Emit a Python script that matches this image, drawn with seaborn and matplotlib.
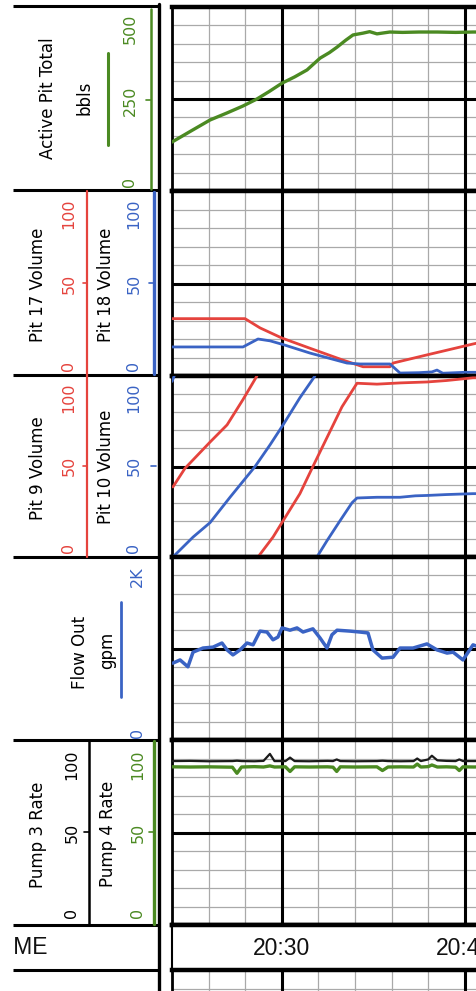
import numpy as np
import pandas as pd
import matplotlib
matplotlib.use("Agg")
import matplotlib.pyplot as plt
import seaborn as sns

sns.set_style("white")
plt.rcParams["font.family"] = ["DejaVu Sans"]

# ---------------------------------------------------------------- data
# time axis: minutes after 20:24
time_labels = ["20:30", "20:40"]
time_label_pos = [6, 16]

# Active pit total (bbls)
pit_total_t = [0.0, 1.0, 2.08, 3.0, 3.88, 4.64, 5.3, 6.01, 6.7, 7.38, 8.09, 8.6, 9.02, 9.5,
               9.89, 10.44, 10.8, 11.2, 11.9, 12.6, 13.5, 14.5, 15.5, 16.45, 17.0]
pit_total_v = [133, 162, 193, 212, 231, 250, 270, 293, 310, 329, 361, 376, 391, 410,
               424, 429, 433, 427, 432, 431, 432, 432, 431, 432, 432]

# Pit 17 / Pit 18 volume
pit17_t = [0.0, 3.99, 4.81, 6.01, 7.54, 9.34, 10.44, 11.91, 12.08, 13.93, 16.45, 17.0]
pit17_v = [31, 31, 26, 20.5, 15, 8.6, 5, 5, 7, 11.4, 17.3, 18.5]
pit18_t = [0.0, 3.88, 4.70, 5.36, 6.07, 7.54, 9.56, 10.27, 11.91, 12.46, 13.5, 14.2, 14.48,
           14.8, 16.0, 17.0]
pit18_v = [15.7, 15.7, 20, 19, 17, 12.4, 7, 6.5, 6.5, 1.6, 1.8, 2.2, 3.2, 1.5, 2, 2]

# Pit 9 / Pit 10 volume, drawn as wrapped 0-100 segments
pit9_segments = [
    ([0.05, 0.71, 2.08, 3.01, 3.88, 4.64], [38.7, 49, 63.5, 73, 87, 100]),
    ([4.70, 5.52, 6.07, 6.99, 7.70, 8.47, 9.29, 10.11, 11.2, 12.5, 13.93, 15.0, 16.45, 17.0],
     [0, 11, 20, 35, 50, 66, 83, 96, 95.5, 96.2, 96.7, 97.5, 99, 99]),
]
pit10_segments = [
    ([0.0, 0.12], [97, 100]),
    ([0.05, 1.15, 2.08, 3.17, 4.54, 5.36, 6.07, 6.99, 7.81], [0, 11, 19, 33, 50, 62, 73, 88, 100]),
    ([7.92, 8.47, 9.18, 9.84, 10.11, 11.2, 12.46, 13.3, 13.93, 15.0, 16.45, 17.0],
     [0, 9, 20, 30, 32.6, 33, 33, 33.8, 34, 34.5, 35, 35]),
]

# Flow out (gpm)
flow_t = [0.05, 0.44, 0.87, 1.15, 1.69, 2.24, 2.73, 3.01, 3.33, 3.72, 4.10, 4.43, 4.81, 5.19,
          5.52, 5.79, 6.01, 6.45, 6.83, 7.16, 7.70, 8.09, 8.47, 8.74, 9.02, 9.73, 10.27, 10.71,
          10.98, 11.48, 12.08, 12.46, 13.17, 13.93, 14.48, 15.03, 15.36, 15.90, 16.45, 17.0]
flow_v = [840, 875, 800, 960, 1005, 1015, 1060, 985, 930, 985, 1060, 1040, 1190, 1180,
          1095, 1125, 1225, 1200, 1225, 1180, 1215, 1115, 1005, 1150, 1200, 1190, 1180, 1170,
          985, 895, 905, 1005, 1005, 1050, 985, 950, 960, 875, 1040, 1000]

# Pump 3 / Pump 4 rate
pump_t = [0, 1.0, 2.0, 3.3, 3.55, 3.8, 4.5, 5.0, 5.35, 5.6, 6.2, 6.45, 6.7, 7.5, 8.5, 8.8,
          9.0, 9.2, 10.0, 11.2, 11.5, 11.8, 12.5, 13.2, 13.4, 13.6, 14.0, 14.2, 14.5, 15.0,
          15.5, 15.7, 15.9, 16.5, 17.0]
pump4_v = [85.5, 85.4, 85.5, 85.3, 82.0, 85.4, 85.6, 85.4, 86.0, 85.4, 85.5, 83.0, 85.5,
           85.4, 85.5, 85.3, 83.0, 85.5, 85.4, 85.5, 83.5, 85.4, 85.5, 85.4, 87.0, 85.4,
           85.6, 86.5, 85.4, 85.5, 85.3, 83.5, 85.5, 85.4, 85.5]
pump3_v = [88.6, 88.7, 88.5, 88.6, 88.8, 88.6, 88.5, 88.7, 92.5, 88.6, 88.6, 90.5, 88.6,
           88.5, 88.7, 88.6, 89.5, 88.6, 88.5, 88.6, 88.8, 88.6, 88.5, 88.6, 90.0, 88.6,
           89.5, 91.5, 89.0, 88.7, 88.6, 89.5, 88.6, 88.6, 88.7]

RED = "#e5433d"
BLUE = "#3a63c4"
GREEN = "#4b8a22"
GRID = "#a9a9a9"

# ---------------------------------------------------------------- layout
W, H = 477, 991
fig = plt.figure(figsize=(W / 100, H / 100), dpi=100)


def box(x0, y0, x1, y1):
    return [x0 / W, 1 - y1 / H, (x1 - x0) / W, (y1 - y0) / H]


PX_PER_MIN = 18.3
X0 = 172
T_SPAN = 20
X1 = X0 + T_SPAN * PX_PER_MIN


def grid_axes(y0, y1, ylim):
    ax = fig.add_axes(box(X0, y0, X1, y1))
    ax.set_xlim(0, T_SPAN)
    ax.set_ylim(*ylim)
    for t in range(0, T_SPAN + 1, 2):
        major = t % 10 == 6
        ax.axvline(t, color="black" if major else GRID, lw=2.2 if major else 0.9,
                   zorder=1.5 if major else 1)
    lo, hi = ylim
    for k in range(1, 10):
        y = lo + (hi - lo) * k / 10
        ax.axhline(y, color="black" if k == 5 else GRID, lw=2.2 if k == 5 else 0.9,
                   zorder=1.5 if k == 5 else 1)
    ax.set_xticks([])
    ax.set_yticks([])
    ax.grid(False)
    for side, s in ax.spines.items():
        s.set_color("black")
    ax.spines["top"].set_linewidth(3.2)
    ax.spines["bottom"].set_linewidth(3.2)
    ax.spines["left"].set_linewidth(2.0)
    ax.spines["right"].set_visible(False)
    return ax


def line(ax, t, v, color, lw):
    df = pd.DataFrame({"t": t, "v": v})
    sns.lineplot(data=df, x="t", y="v", ax=ax, color=color, lw=lw, estimator=None,
                 sort=False, legend=False, zorder=3)
    ax.set_xlabel("")
    ax.set_ylabel("")


tracks = [(7, 191), (191, 376), (376, 557), (557, 740), (740, 925)]

ax1 = grid_axes(*tracks[0], (0, 500))
line(ax1, pit_total_t, pit_total_v, GREEN, 2.4)

ax2 = grid_axes(*tracks[1], (0, 100))
line(ax2, pit17_t, pit17_v, RED, 2.0)
line(ax2, pit18_t, pit18_v, BLUE, 2.0)

ax3 = grid_axes(*tracks[2], (0, 100))
for t, v in pit9_segments:
    line(ax3, t, v, RED, 2.0)
for t, v in pit10_segments:
    line(ax3, t, v, BLUE, 2.0)

ax4 = grid_axes(*tracks[3], (0, 2000))
line(ax4, flow_t, flow_v, BLUE, 2.5)

ax5 = grid_axes(*tracks[4], (0, 100))
line(ax5, pump_t, pump3_v, "#1a1a1a", 1.6)
line(ax5, pump_t, pump4_v, GREEN, 2.4)

# time strip
axt = fig.add_axes(box(X0, 925, X1, 970))
axt.set_xlim(0, T_SPAN)
axt.set_ylim(0, 1)
axt.set_xticks([])
axt.set_yticks([])
axt.spines["right"].set_visible(False)
axt.spines["top"].set_linewidth(3.2)
axt.spines["bottom"].set_linewidth(2.4)
axt.spines["left"].set_linewidth(1.5)
for s in axt.spines.values():
    s.set_color("black")
for pos, lab in zip(time_label_pos, time_labels):
    axt.text(pos, 0.47, lab, ha="center", va="center", fontsize=16.5,
             family="Liberation Sans", color="#111111")

# next track beneath the time strip
grid_axes(970, 1155, (0, 100))

# ---------------------------------------------------------------- header
hd = fig.add_axes([0, 0, 1, 1], zorder=5)
hd.set_xlim(0, W)
hd.set_ylim(H, 0)
hd.axis("off")

for y in [6, 190, 375, 557, 740, 925, 970]:
    hd.plot([13, 160], [y, y], color="black", lw=2.2, solid_capstyle="butt")
hd.plot([159, 159], [4, H], color="black", lw=2.4)


def vtext(x, y, s, size=12, color="black"):
    hd.text(x, y, s, rotation=90, ha="center", va="center", fontsize=size, color=color)


# Active Pit Total
vtext(48, 98, "Active Pit Total")
vtext(85, 98, "bbls")
hd.plot([108, 108], [53, 145], color=GREEN, lw=2.2)
for y, s in [(182, "0"), (101, "250"), (29, "500")]:
    vtext(130, y, s, 11.5, GREEN)
hd.plot([151, 151], [9, 189], color=GREEN, lw=1.8)
hd.plot([146, 151], [100, 100], color=GREEN, lw=1.2)

# Pit 17 / Pit 18
vtext(38, 285, "Pit 17 Volume")
vtext(106, 285, "Pit 18 Volume")
for y, s in [(366, "0"), (284, "50"), (214, "100")]:
    vtext(69, y, s, 11.5, RED)
    vtext(134, y, s, 11.5, BLUE)
hd.plot([87, 87], [191, 376], color=RED, lw=1.6)
hd.plot([83, 87], [283, 283], color=RED, lw=1.2)
hd.plot([154, 154], [192, 374], color=BLUE, lw=2.4)
hd.plot([149, 154], [283, 283], color=BLUE, lw=1.2)

# Pit 9 / Pit 10
vtext(38, 468, "Pit 9 Volume")
vtext(106, 467, "Pit 10 Volume")
for y, s in [(548, "0"), (466, "50"), (398, "100")]:
    vtext(69, y, s, 11.5, RED)
    vtext(134, y, s, 11.5, BLUE)
hd.plot([87, 87], [376, 557], color=RED, lw=1.6)
hd.plot([83, 87], [466, 466], color=RED, lw=1.2)
hd.plot([151, 156], [466, 466], color=BLUE, lw=1.2)

# Flow Out
vtext(80, 652, "Flow Out")
vtext(107, 650, "gpm")
hd.plot([121, 121], [602, 697], color=BLUE, lw=2.0)
vtext(137, 577, "2K", 11.5, BLUE)
vtext(138, 733, "0", 11.5, BLUE)

# Pump 3 / Pump 4
vtext(38, 835, "Pump 3 Rate")
vtext(108, 834, "Pump 4 Rate")
for y, s in [(913, "0"), (833, "50"), (765, "100")]:
    vtext(72, y, s, 11.5, "black")
    vtext(138, y, s, 11.5, GREEN)
hd.plot([89, 89], [740, 925], color="black", lw=1.8)
hd.plot([84, 89], [832, 832], color="black", lw=1.2)
hd.plot([154, 154], [741, 924], color=GREEN, lw=2.4)
hd.plot([149, 154], [832, 832], color=GREEN, lw=1.2)

# time caption cell
cell = fig.add_axes(box(13, 927, 158, 968), zorder=4)
cell.axis("off")
cell.set_xlim(13, 158)
cell.set_ylim(968, 927)
cell.text(-7, 948, "TIME", ha="left", va="center", fontsize=16.5,
          family="Liberation Sans", color="#111111", clip_on=True)

fig.savefig("out.png", dpi=100)
